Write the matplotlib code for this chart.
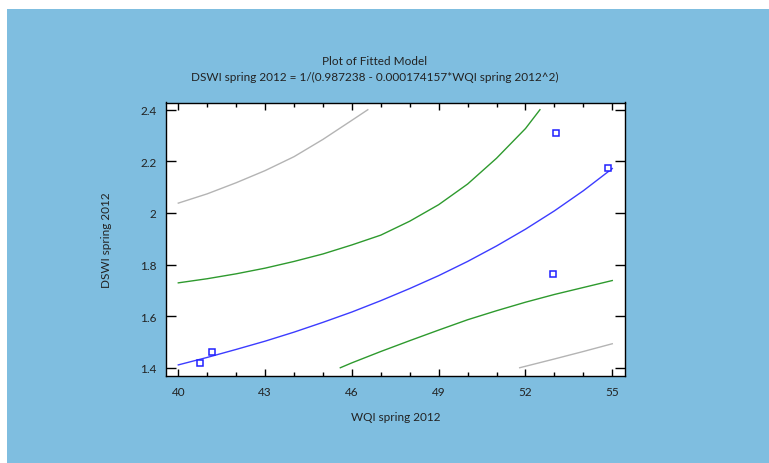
import matplotlib
matplotlib.use("Agg")
import matplotlib.pyplot as plt
from matplotlib.patches import Rectangle

plt.rcParams['font.family'] = ['Lato', 'DejaVu Sans']

# observed points
obs_x = [40.75, 41.15, 52.95, 53.05, 54.85]
obs_y = [1.418, 1.462, 1.762, 2.308, 2.175]

# fitted line
fit_x = [40, 41, 42, 43, 44, 45, 46, 47, 48, 49, 50, 51, 52, 53, 54, 55]
fit_y = [1.411, 1.440, 1.471, 1.503, 1.538, 1.576, 1.616, 1.660, 1.707,
         1.757, 1.812, 1.872, 1.937, 2.008, 2.086, 2.172]

# inner (green) limits
conf_up_x = [40, 41, 42, 43, 44, 45, 46, 47, 48, 49, 50, 51, 52, 52.5]
conf_up_y = [1.729, 1.745, 1.764, 1.786, 1.812, 1.841, 1.876, 1.914, 1.968,
             2.032, 2.112, 2.212, 2.327, 2.400]
conf_lo_x = [45.6, 46, 47, 48, 49, 50, 51, 52, 53, 54, 55]
conf_lo_y = [1.400, 1.419, 1.463, 1.505, 1.546, 1.586, 1.621, 1.654, 1.684,
             1.711, 1.738]

# outer (gray) limits
pred_up_x = [40, 41, 42, 43, 44, 45, 46, 46.55]
pred_up_y = [2.038, 2.074, 2.117, 2.164, 2.218, 2.285, 2.359, 2.400]
pred_lo_x = [51.8, 53, 54, 55]
pred_lo_y = [1.400, 1.434, 1.463, 1.493]

x_major = [40, 43, 46, 49, 52, 55]
x_minor = list(range(40, 56))
y_ticks = [1.4, 1.6, 1.8, 2.0, 2.2, 2.4]
y_labels = ['1.4', '1.6', '1.8', '2', '2.2', '2.4']

title = "Plot of Fitted Model"
subtitle = "DSWI spring 2012 = 1/(0.987238 - 0.000174157*WQI spring 2012^2)"
xlabel = "WQI spring 2012"
ylabel = "DSWI spring 2012"

W, H = 769, 464
fig = plt.figure(figsize=(W / 100, H / 100), dpi=100, facecolor='white')
fig.patches.append(Rectangle((7 / W, -0.05), 1.1, 1.05 - 10 / H,
                             transform=fig.transFigure, facecolor='#7fbee0',
                             edgecolor='none', zorder=-5))

ax = fig.add_axes([166 / W, 1 - 377 / H, (625 - 166) / W, (377 - 103.5) / H])
ax.set_zorder(2)
ax.set_facecolor('white')

ax.plot(pred_up_x, pred_up_y, color='#b4b4b4', lw=1)
ax.plot(pred_lo_x, pred_lo_y, color='#b4b4b4', lw=1)
ax.plot(conf_up_x, conf_up_y, color='#2e9a2e', lw=1)
ax.plot(conf_lo_x, conf_lo_y, color='#2e9a2e', lw=1)
ax.plot(fit_x, fit_y, color='#3c3cff', lw=1)
ax.plot(obs_x, obs_y, ls='none', marker='s', ms=4.3, mfc='white',
        mec='#2020ff', mew=1.1)

ax.set_xlim(39.575, 55.44)
ax.set_ylim(1.368, 2.428)
ax.set_xticks(x_major)
ax.set_xticks(x_minor, minor=True)
ax.set_yticks(y_ticks)
ax.set_yticklabels(y_labels)

ax.tick_params(axis='x', which='major', direction='in', length=5, width=1,
               top=True, pad=7, labelsize=8.5, labelcolor='#222222')
ax.tick_params(axis='x', which='minor', direction='in', length=3, width=1, top=True)
ax.tick_params(axis='y', which='major', direction='in', length=7, width=1,
               right=True, pad=7, labelsize=8.5, labelcolor='#222222')
for s in ax.spines.values():
    s.set_linewidth(1)
    s.set_color('black')

ax.set_xlabel(xlabel, fontsize=8.5, color='#222222', labelpad=10)
ax.set_ylabel(ylabel, fontsize=8.5, color='#222222', labelpad=20)

fig.text(375 / W, 1 - 61.5 / H, title, ha='center', va='center',
         fontsize=8.5, color='#222222')
fig.text(375 / W, 1 - 77.5 / H, subtitle, ha='center', va='center',
         fontsize=8.5, color='#222222')

fig.savefig('out.png', dpi=100, facecolor='white')
